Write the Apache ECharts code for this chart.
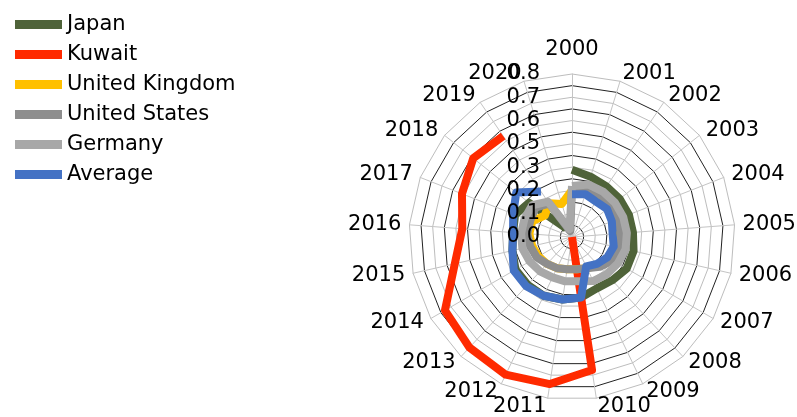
<!DOCTYPE html>
<html>
<head>
<meta charset="utf-8">
<script src="https://cdn.jsdelivr.net/npm/echarts@6/dist/echarts.min.js"></script>
<style>
  html, body { margin: 0; padding: 0; background: #fff; }
  #chart { width: 797px; height: 417px; }
</style>
</head>
<body>
<div id="chart"></div>
<script>
// categories (clockwise from the top)
const years = ['2000', '2001', '2002', '2003', '2004', '2005', '2006', '2007', '2008', '2009', '2010',
  '2011', '2012', '2013', '2014', '2015', '2016', '2017', '2018', '2019', '2020'];
const tickLabels = ['0.0', '0.1', '0.2', '0.3', '0.5', '0.6', '0.7', '0.8'];

const japan = [0.33, 0.31, 0.30, 0.30, 0.30, 0.30, 0.31, 0.31, 0.29, 0.28, 0.30,
  0.31, 0.32, 0.32, 0.32, 0.30, 0.29, 0.30, 0.27, 0.05, null];
const kuwait = [null, null, null, null, null, null, null, null, null, 0, 0.66,
  0.73, 0.75, 0.74, 0.72, 0.59, 0.54, 0.58, 0.62, 0.60, null];
const unitedKingdom = [0.23, 0.24, 0.24, 0.24, 0.23, 0.23, 0.23, 0.22, 0.19, 0.17, 0.16,
  0.16, 0.17, 0.18, 0.19, 0.20, 0.21, 0.21, 0.17, 0.20, 0.17];
const unitedStates = [0.24, 0.25, 0.25, 0.25, 0.24, 0.24, 0.24, 0.23, 0.20, 0.17, 0.16,
  0.16, 0.17, 0.18, 0.20, 0.21, 0.22, 0.22, 0.23, 0.20, 0.03];
const germany = [0.25, 0.27, 0.27, 0.27, 0.27, 0.27, 0.27, 0.26, 0.25, 0.24, 0.22,
  0.22, 0.22, 0.23, 0.24, 0.25, 0.25, 0.25, 0.25, 0.21, 0.04];
const average = [0.21, 0.22, 0.21, 0.22, 0.21, 0.20, 0.21, 0.20, 0.18, 0.16, 0.30,
  0.31, 0.32, 0.33, 0.33, 0.30, 0.29, 0.31, 0.35, 0.27, null];

const axisMax = 0.8;
const splitNumber = 14;
const center = [572, 237];
const radius = 163;
const font = 'DejaVu Sans';

// radar goes counter-clockwise, so list the years backwards after 2000
const order = [0].concat(years.map((y, i) => i).slice(1).reverse());

const makeIndicators = (labelAxis) => order.map((i, k) => {
  const ind = { name: years[i], min: 0, max: axisMax };
  if (k === 0) {
    ind.nameGap = 14;
    if (labelAxis) ind.axisLabel = { show: true };
  }
  return ind;
});

// [radius, angle] pairs for the polar line, closed when the last year exists
const toPolar = (values) => {
  const pts = [];
  values.forEach((v, i) => { if (v !== null) pts.push([v, i]); });
  if (values[0] !== null && values[values.length - 1] !== null) pts.push([values[0], years.length]);
  return pts;
};

const seriesDefs = [
  { name: 'Japan', data: japan, color: '#4f6339' },
  { name: 'Kuwait', data: kuwait, color: '#ff2a00' },
  { name: 'United Kingdom', data: unitedKingdom, color: '#ffc000' },
  { name: 'United States', data: unitedStates, color: '#8e8e8e' },
  { name: 'Germany', data: germany, color: '#a8a8a8' },
  { name: 'Average', data: average, color: '#4472c4' }
];

const chart = echarts.init(document.getElementById('chart'));
const option = {
  animation: false,
  backgroundColor: '#fff',
  legend: {
    orient: 'vertical',
    left: 10,
    top: 9,
    itemWidth: 47,
    itemHeight: 9,
    itemGap: 9,
    icon: 'rect',
    textStyle: { fontFamily: font, fontSize: 21, color: '#000' },
    data: seriesDefs.map(s => s.name)
  },
  radar: [
    {
      center: center,
      radius: radius,
      startAngle: 90,
      splitNumber: splitNumber,
      indicator: makeIndicators(false),
      axisNameGap: 8,
      axisName: { color: '#000', fontFamily: font, fontSize: 21 },
      axisLine: { lineStyle: { color: '#c4c4c4', width: 1 } },
      splitLine: { lineStyle: { color: ['#bdbdbd', '#222'], width: 1 } },
      splitArea: { show: false },
      z: 0
    },
    {
      center: center,
      radius: radius,
      startAngle: 90,
      splitNumber: splitNumber,
      indicator: makeIndicators(true),
      axisName: { show: false },
      axisLine: { show: false },
      splitLine: { show: false },
      splitArea: { show: false },
      axisLabel: {
        show: false,
        margin: 32,
        fontFamily: font,
        fontSize: 21,
        color: '#000',
        formatter: (v) => {
          const k = Math.round(v / (axisMax / splitNumber));
          return k % 2 === 0 ? tickLabels[k / 2] : '';
        }
      },
      z: 5
    }
  ],
  polar: { center: center, radius: radius },
  angleAxis: { type: 'value', min: 0, max: years.length, startAngle: 90, clockwise: true, show: false },
  radiusAxis: { type: 'value', min: 0, max: axisMax, show: false },
  series: seriesDefs.map(s => ({
    name: s.name,
    type: 'line',
    coordinateSystem: 'polar',
    symbol: 'none',
    data: toPolar(s.data),
    itemStyle: { color: s.color },
    lineStyle: { color: s.color, width: 8, join: 'round' },
    z: 2
  }))
};
chart.setOption(option);
</script>
</body>
</html>
